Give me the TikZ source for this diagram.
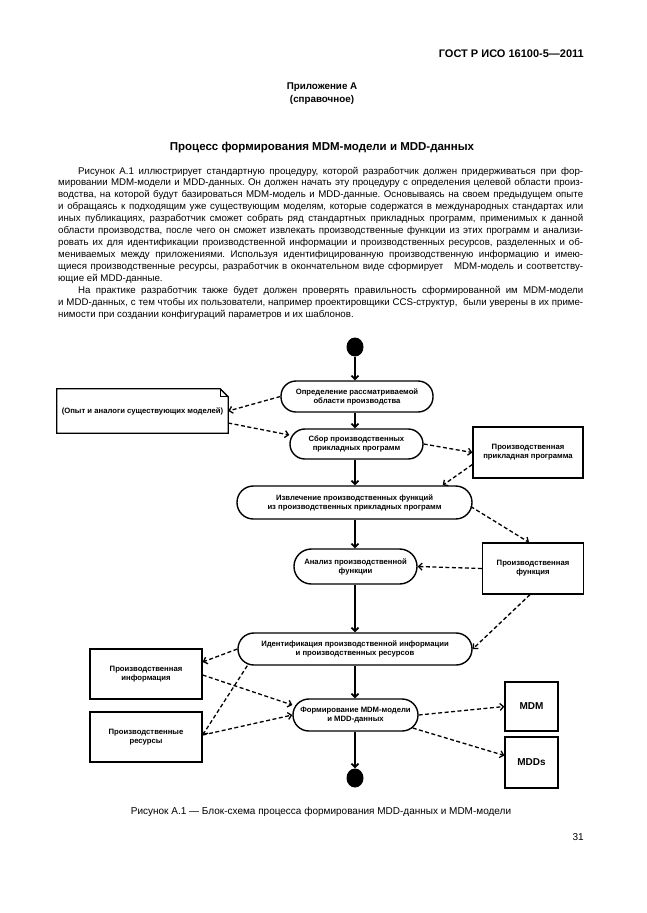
\documentclass[tikz,border=0pt]{standalone}
\usepackage{fontspec}
\setmainfont{Liberation Sans}
\usetikzlibrary{arrows.meta,shapes.geometric}
\frenchspacing
\newcommand{\diagfont}{\fontsize{7.7}{9}\selectfont\bfseries}
\newcommand{\bodyfont}{\fontsize{9.7}{12}\selectfont}
\tikzset{
  body/.style={anchor=base west, inner sep=0pt, font=\bodyfont},
  act/.style={draw, line width=1.4pt, align=center, inner sep=0pt, font=\diagfont},
  obox/.style={draw, line width=1.3pt, align=center, inner sep=0pt, font=\diagfont},
  blob/.style={ellipse, fill=black, minimum width=17pt, minimum height=19pt, inner sep=0pt},
  tip/.tip={Straight Barb[length=3.5pt,width=7pt]},
  flow/.style={line width=1.8pt, -tip},
  dep/.style={line width=1.3pt, dash pattern=on 4pt off 2.5pt, -tip}
}
\begin{document}
\begin{tikzpicture}[x=1pt,y=-1pt]
\useasboundingbox[fill=white] (0,0) rectangle (646,913);
% header
\node[anchor=base east, inner sep=0, font=\fontsize{11}{13}\selectfont\bfseries] (hdr) at (584,57) {ГОСТ Р ИСО 16100-5—2011};
\node[anchor=base, inner sep=0, font=\fontsize{9.8}{12}\selectfont\bfseries] (app) at (322,89) {Приложение А};
\node[anchor=base, inner sep=0, font=\fontsize{9.8}{12}\selectfont\bfseries] (ref) at (322,102) {(справочное)};
\node[anchor=base, inner sep=0, font=\fontsize{11.5}{13}\selectfont\bfseries] (ttl) at (322,150) {Процесс формирования MDM-модели и MDD-данных};
% body
\node[body] (l1) at (78,174) {\makebox[505pt][s]{Рисунок А.1 иллюстрирует стандартную процедуру, которой разработчик должен придерживаться при фор-}};
\node[body] (l2) at (58,185.95) {\makebox[525pt][s]{мировании MDM-модели и MDD-данных. Он должен начать эту процедуру с определения целевой области произ-}};
\node[body] (l3) at (58,197.9) {\makebox[525pt][s]{водства, на которой будут базироваться MDM-модель и MDD-данные. Основываясь на своем предыдущем опыте}};
\node[body] (l4) at (58,209.85) {\makebox[525pt][s]{и обращаясь к подходящим уже существующим моделям, которые содержатся в международных стандартах или}};
\node[body] (l5) at (58,221.8) {\makebox[525pt][s]{иных публикациях, разработчик сможет собрать ряд стандартных прикладных программ, применимых к данной}};
\node[body] (l6) at (58,233.75) {\makebox[525pt][s]{области производства, после чего он сможет извлекать производственные функции из этих программ и анализи-}};
\node[body] (l7) at (58,245.7) {\makebox[525pt][s]{ровать их для идентификации производственной информации и производственных ресурсов, разделенных и об-}};
\node[body] (l8) at (58,257.65) {\makebox[525pt][s]{мениваемых между приложениями. Используя идентифицированную производственную информацию и имею-}};
\node[body] (l9) at (58,269.6) {\makebox[525pt][s]{щиеся производственные ресурсы, разработчик в окончательном виде сформирует \ \ MDM-модель и соответству-}};
\node[body] (l10) at (58,281.55) {ющие ей MDD-данные.};
\node[body] (l11) at (78,293.5) {\makebox[505pt][s]{На практике разработчик также будет должен проверять правильность сформированной им MDM-модели}};
\node[body] (l12) at (58,305.45) {\makebox[525pt][s]{и MDD-данных, с тем чтобы их пользователи, например проектировщики CCS-структур, \ были уверены в их приме-}};
\node[body] (l13) at (58,317.4) {нимости при создании конфигураций параметров и их шаблонов.};
% diagram nodes
\node[blob] (start) at (355,347) {};
\node[act, minimum width=152pt, minimum height=31pt, rounded corners=15pt] (A) at (357,396.5) {Определение рассматриваемой\\области производства};
\node[minimum width=171pt, minimum height=44pt, inner sep=0pt, font=\diagfont] (note) at (142.5,411) {(Опыт и аналоги существующих моделей)};
\draw[line width=1.3pt] (note.south west) -- (note.north west) -- ([xshift=-8pt]note.north east) -- ([yshift=-8pt]note.north east) -- (note.south east) -- cycle;
\draw[line width=1pt] ([xshift=-8pt]note.north east) -- ([xshift=-8pt,yshift=-8pt]note.north east) -- ([yshift=-8pt]note.north east);
\node[act, minimum width=133pt, minimum height=30pt, rounded corners=14.9pt] (B) at (356.5,444) {Сбор производственных\\прикладных программ};
\node[obox, minimum width=110pt, minimum height=51pt] (P1) at (528,452.5) {Производственная\\прикладная программа};
\node[act, minimum width=235pt, minimum height=33pt, rounded corners=16.4pt] (C) at (354.5,502.5) {Извлечение производственных функций\\из производственных прикладных программ};
\node[act, minimum width=123pt, minimum height=35pt, rounded corners=17.4pt] (D) at (355.5,566.5) {Анализ производственной\\функции};
\node[obox, minimum width=101pt, minimum height=51pt] (P2) at (533,568.5) {Производственная\\функция};
\node[act, minimum width=234pt, minimum height=32pt, rounded corners=15.9pt] (E) at (355,649) {Идентификация производственной информации\\и производственных ресурсов};
\node[obox, minimum width=112pt, minimum height=50pt] (I) at (146,674) {Производственная\\информация};
\node[obox, minimum width=112pt, minimum height=50pt] (R) at (146,737) {Производственные\\ресурсы};
\node[act, minimum width=125pt, minimum height=32pt, rounded corners=15.9pt] (F) at (355.5,715) {Формирование MDM-модели\\и MDD-данных};
\node[obox, minimum width=53pt, minimum height=49pt, font=\fontsize{10}{12}\selectfont\bfseries] (MDM) at (531.5,706.5) {MDM};
\node[obox, minimum width=53pt, minimum height=51pt, font=\fontsize{10}{12}\selectfont\bfseries] (MDDs) at (531.5,762.5) {MDDs};
\node[blob] (end) at (355,778) {};
% flow
\draw[flow] (start) -- (A.north -| start);
\draw[flow] (A.south -| start) -- (B.north -| start);
\draw[flow] (B.south -| start) -- (C.north -| start);
\draw[flow] (C.south -| start) -- (D.north -| start);
\draw[flow] (D.south -| start) -- (E.north -| start);
\draw[flow] (E.south -| start) -- (F.north -| start);
\draw[flow] (F.south -| start) -- (end);
% dependencies
\draw[dep] (A.west) -- (note.east);
\draw[dep] ([yshift=-12pt]note.east) -- ([yshift=9pt]B.west);
\draw[dep] (B.east) -- (P1.west);
\draw[dep] ([yshift=-12pt]P1.west) -- ([xshift=-30pt]C.north east);
\draw[dep] ([xshift=-2pt,yshift=-4pt]C.east) -- ([xshift=-4pt]P2.north);
\draw[dep] (P2.west) -- (D.east);
\draw[dep] ([xshift=-3pt]P2.south) -- (E.east);
\draw[dep] (E.west) -- ([yshift=12pt]I.east);
\draw[dep] ([xshift=10pt]E.south west) -- ([yshift=2pt]R.east);
\draw[dep] ([yshift=-1pt]I.east) -- ([yshift=10pt]F.west);
\draw[dep] ([yshift=2pt]R.east) -- (F.west);
\draw[dep] (F.east) -- (MDM.west);
\draw[dep] ([xshift=-6pt,yshift=-13pt]F.east) -- ([yshift=7pt]MDDs.west);
% caption
\node[anchor=base, inner sep=0, font=\fontsize{10}{12}\selectfont] (cap) at (321,814) {Рисунок А.1 — Блок-схема процесса формирования MDD-данных и MDM-модели};
\node[anchor=base east, inner sep=0, font=\fontsize{10}{12}\selectfont] (pg) at (584,840) {31};
\end{tikzpicture}
\end{document}
